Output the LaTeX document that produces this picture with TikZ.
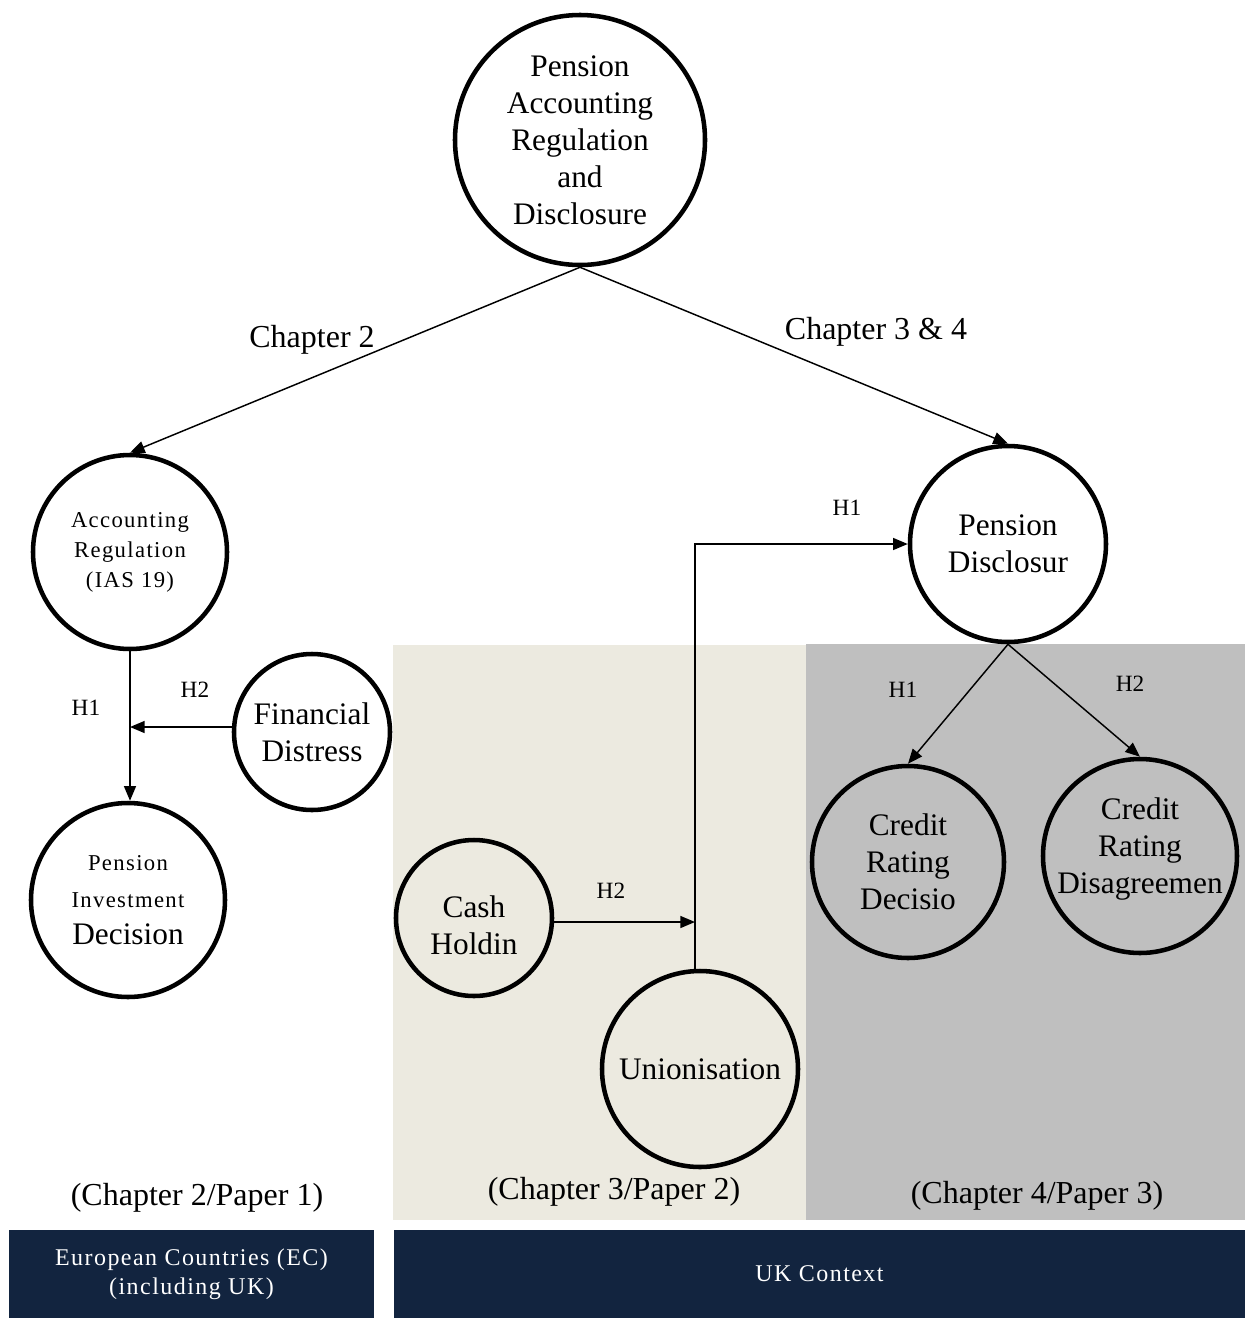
\documentclass[tikz,border=0pt]{standalone}
\usepackage{fontspec}
\setmainfont{Liberation Serif}
\usetikzlibrary{arrows.meta,calc}
\definecolor{navy}{HTML}{12243F}
\definecolor{beige}{HTML}{ECEAE0}
\definecolor{greybg}{HTML}{BFBFBF}
\newcommand{\spaced}{\addfontfeatures{LetterSpace=6}}
\begin{document}
\begin{tikzpicture}[x=0.75pt,y=-0.75pt,
  circ/.style={circle,draw,line width=3.4pt,align=center,inner sep=0pt,font=\fontsize{23.5}{27.75}\selectfont},
  smallfont/.style={font=\fontsize{17}{22.5}\selectfont\spaced},
  conn/.style={line width=1.1pt,-{Triangle[length=11pt,width=9pt]}},
  hlab/.style={font=\fontsize{17.5}{20}\selectfont},
  biglab/.style={font=\fontsize{24}{28}\selectfont},
  navybox/.style={fill=navy,draw=none,text=white,align=center,font=\fontsize{18}{22}\selectfont\spaced}]
\useasboundingbox (0,0) rectangle (1245,1318);
% backgrounds
\fill[beige] (393,645) rectangle (806,1220);
\fill[greybg] (806,644) rectangle (1245,1220);
\node[navybox,minimum width=273.75pt,minimum height=66pt] (ec) at (191.5,1274) {European Countries (EC)\\(including UK)};
\node[navybox,minimum width=638.25pt,minimum height=66pt] (uk) at (819.5,1274) {UK Context};
% circles
\node[circ,fill=white,minimum size=187.5pt] (top) at (580,140) {Pension\\Accounting\\Regulation\\and\\Disclosure};
\node[circ,smallfont,fill=white,minimum size=145.5pt] (acc) at (130,552) {Accounting\\Regulation\\(IAS 19)};
\node[circ,fill=white,minimum size=117pt] (fd) at (312,732) {Financial\\Distress};
\node[circ,fill=white,minimum size=145.5pt] (pid) at (128,900) {{\fontsize{17}{22.5}\selectfont\spaced Pension}\\{\fontsize{17}{22.5}\selectfont\spaced Investment}\\Decision};
\node[circ,fill=white,minimum size=147pt] (pd) at (1008,544) {Pension\\Disclosur};
\node[circ,minimum size=117pt] (cash) at (474,918) {};
\node[align=center,font=\fontsize{23.5}{27.75}\selectfont] (cashtxt) at ($(cash)+(0,7)$) {Cash\\Holdin};
\node[circ,minimum size=147pt] (un) at (700,1069) {Unionisation};
\node[circ,minimum size=144pt] (crd) at (908,862) {Credit\\Rating\\Decisio};
\node[circ,minimum size=145.5pt] (cdis) at (1140,856) {};
\node[align=center,font=\fontsize{23.5}{27.75}\selectfont] (cdistxt) at ($(cdis)+(0,-7)$) {Credit\\Rating\\Disagreemen};
% connectors
\draw[conn] (top.south) -- (acc.north);
\draw[conn] (top.south) -- (pd.north);
\draw[conn] (acc.south) -- (acc.south |- pid.north);
\coordinate (j1) at (acc.south |- 0,727);
\draw[conn] (fd.west |- j1) -- (j1);
\coordinate (j2) at (695,922);
\draw[conn] (cash.east |- j2) -- (j2);
\coordinate (ut) at (695,970);
\draw[conn] (ut) |- (pd.west);
\draw[conn] (pd.south) -- (crd.north);
\draw[conn] (pd.south) -- (cdis.north);
% labels
\node[biglab] (l1) at (312,340) {Chapter 2};
\node[biglab] (l2) at (876,332) {Chapter 3 \& 4};
\node[hlab] (h1a) at (86,708) {H1};
\node[hlab] (h2a) at (195,690) {H2};
\node[hlab] (h2b) at (611,891) {H2};
\node[hlab] (h1b) at (847,508) {H1};
\node[hlab] (h1c) at (903,690) {H1};
\node[hlab] (h2c) at (1130,684) {H2};
\node[biglab] (p1) at (197,1198) {(Chapter 2/Paper 1)};
\node[biglab] (p2) at (614,1192) {(Chapter 3/Paper 2)};
\node[biglab] (p3) at (1037,1196) {(Chapter 4/Paper 3)};
\end{tikzpicture}
\end{document}
